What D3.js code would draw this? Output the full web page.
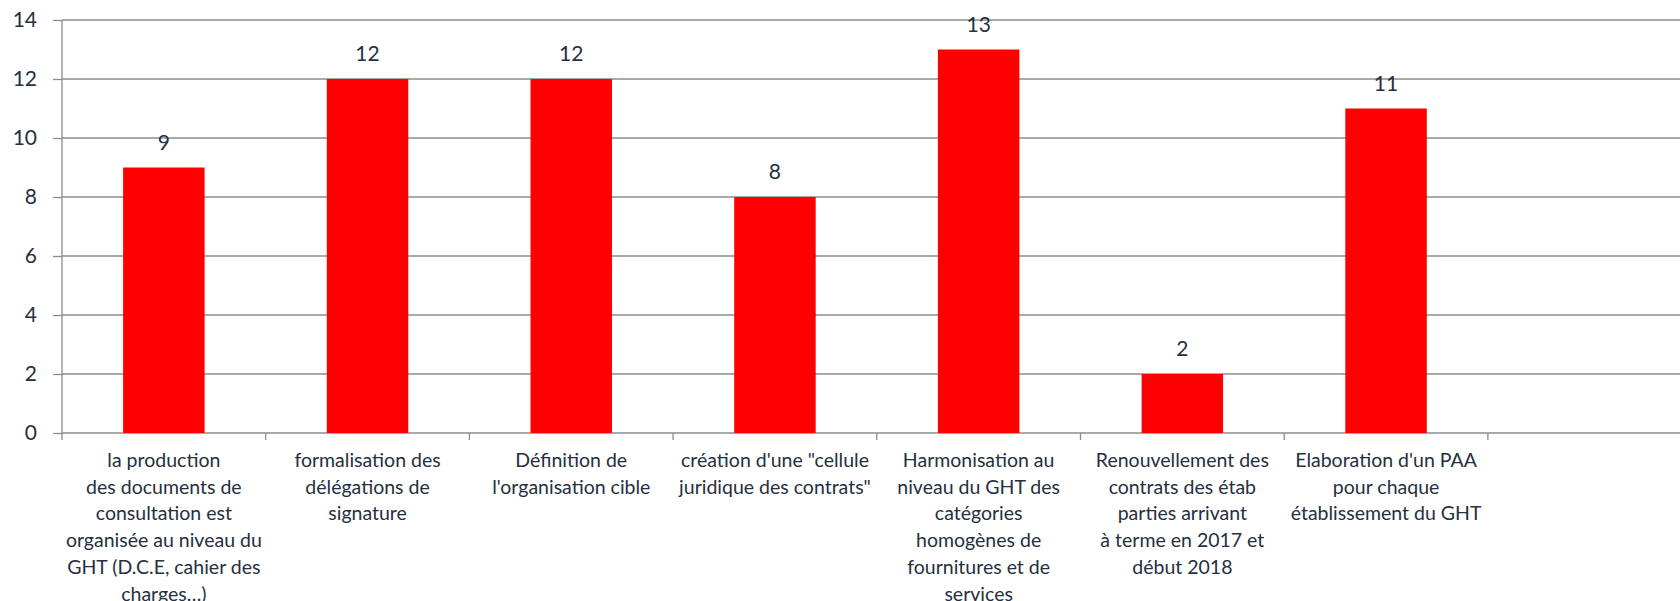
<!DOCTYPE html>
<html lang="fr">
<head>
<meta charset="utf-8">
<title>Bar chart</title>
<script src="https://d3js.org/d3.v7.min.js"></script>
<style>
  body { margin: 0; background: #fff; }
  svg text { font-family: Lato, "Open Sans", sans-serif; fill: #253040; }
</style>
</head>
<body>
<script>
// chart values
var categories = [
  ["la production", "des documents de", "consultation est", "organisée au niveau du", "GHT (D.C.E, cahier des", "charges…)"],
  ["formalisation des", "délégations de", "signature"],
  ["Définition de", "l'organisation cible"],
  ["création d'une \"cellule", "juridique des contrats\""],
  ["Harmonisation au", "niveau du GHT des", "catégories", "homogènes de", "fournitures et de", "services"],
  ["Renouvellement des", "contrats des étab", "parties arrivant", "à terme en 2017 et", "début 2018"],
  ["Elaboration d'un PAA", "pour chaque", "établissement du GHT"],
  []
];
var values = [9, 12, 12, 8, 13, 2, 11, null];
var yTicks = [0, 2, 4, 6, 8, 10, 12, 14];

var chartW = 1680, chartH = 601;
var plotLeft = 62, plotTop = 20, plotBottom = 433;
var band = 203.7;

var svg = d3.select("body").append("svg")
    .attr("width", chartW)
    .attr("height", chartH);

var idx = d3.range(categories.length);
var x = d3.scaleBand()
    .domain(idx)
    .range([plotLeft, plotLeft + band * categories.length])
    .paddingInner(0).paddingOuter(0);

var y = d3.scaleLinear()
    .domain([0, 14])
    .range([plotBottom, plotTop]);

// gridlines
svg.append("g").selectAll("line")
    .data(yTicks)
    .enter().append("line")
    .attr("x1", plotLeft).attr("x2", chartW)
    .attr("y1", function (d) { return y(d); })
    .attr("y2", function (d) { return y(d); })
    .attr("stroke", "#8c8c8c")
    .attr("stroke-width", 1.3);

// y ticks + labels
var yAxis = svg.append("g")
    .attr("transform", "translate(" + plotLeft + ",0)")
    .call(d3.axisLeft(y).tickValues(yTicks).tickSize(9).tickPadding(16));
yAxis.select(".domain").remove();
yAxis.selectAll("line").attr("stroke", "#8c8c8c").attr("stroke-width", 1.3);
yAxis.selectAll("text")
    .style("font-size", "21px")
    .attr("fill", "#253040");

// y axis line
svg.append("line")
    .attr("x1", plotLeft).attr("x2", plotLeft)
    .attr("y1", y(14)).attr("y2", y(0))
    .attr("stroke", "#8c8c8c")
    .attr("stroke-width", 1.3);

// category ticks
svg.append("g").selectAll("line")
    .data(idx)
    .enter().append("line")
    .attr("x1", function (d) { return x(d); })
    .attr("x2", function (d) { return x(d); })
    .attr("y1", y(0)).attr("y2", y(0) + 7)
    .attr("stroke", "#8c8c8c")
    .attr("stroke-width", 1.3);

// bars
var barW = x.bandwidth() * 0.4;
var barData = idx.filter(function (i) { return values[i] != null; });
svg.append("g").selectAll("rect")
    .data(barData)
    .enter().append("rect")
    .attr("x", function (i) { return x(i) + (x.bandwidth() - barW) / 2; })
    .attr("width", barW)
    .attr("y", function (i) { return y(values[i]); })
    .attr("height", function (i) { return y(0) - y(values[i]); })
    .attr("fill", "#ff0000");

// value labels
svg.append("g").selectAll("text")
    .data(barData)
    .enter().append("text")
    .attr("x", function (i) { return x(i) + x.bandwidth() / 2; })
    .attr("y", function (i) { return y(values[i]) - 18; })
    .attr("text-anchor", "middle")
    .style("font-size", "21px")
    .text(function (i) { return values[i]; });

// category labels
var lab = svg.append("g").selectAll("text")
    .data(idx)
    .enter().append("text")
    .attr("text-anchor", "middle")
    .style("font-size", "19.5px")
    .attr("transform", function (d) {
        return "translate(" + (x(d) + x.bandwidth() / 2) + ",467)";
    });
lab.selectAll("tspan")
    .data(function (d) { return categories[d]; })
    .enter().append("tspan")
    .attr("x", 0)
    .attr("y", function (t, j) { return j * 26.7; })
    .text(function (t) { return t; });
</script>
</body>
</html>
